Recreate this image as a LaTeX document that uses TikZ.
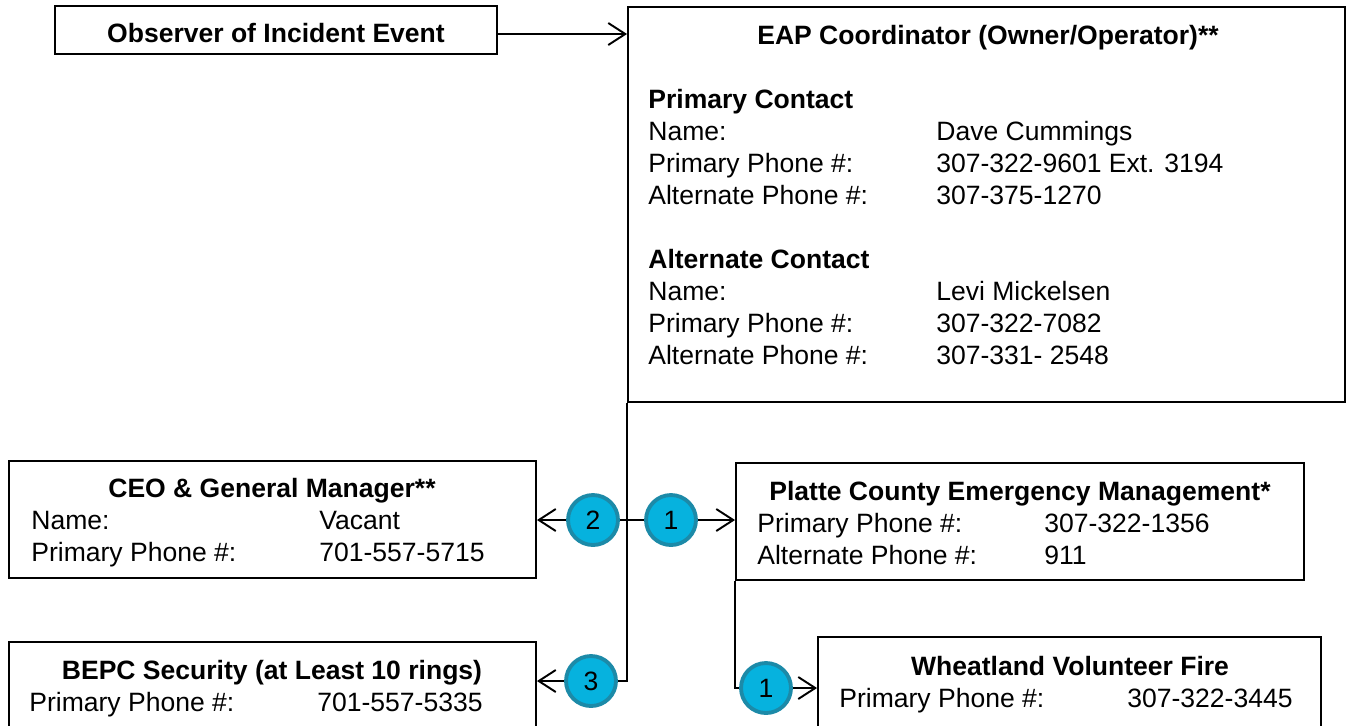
\documentclass[tikz,border=0pt]{standalone}
\usepackage{fontspec}
\setmainfont{Liberation Sans}
\definecolor{BadgeFill}{RGB}{6,178,222}
\definecolor{BadgeEdge}{RGB}{28,138,168}
\usepackage{tikz}
\usetikzlibrary{positioning, arrows.meta, fit, calc}
\newcommand{\bodysize}{\fontsize{15.1}{18}\selectfont}
\tikzset{
  box/.style={draw, line width=1.1pt, inner sep=0pt, fill=white},
  hd/.style={anchor=base, inner sep=0pt, font=\bodysize\bfseries},
  lbl/.style={anchor=base west, inner sep=0pt, font=\bodysize},
  badge/.style={circle, draw=BadgeEdge, line width=2.2pt, fill=BadgeFill, minimum size=1cm, inner sep=0pt, font=\bodysize},
  link/.style={line width=1.1pt, -{Straight Barb[length=3.4mm, width=4.4mm, line width=1.1pt]}}
}

\begin{document}
\begin{tikzpicture}[x=0.02cm, y=-0.02cm]
          \useasboundingbox (0,0) rectangle (1351,725);
          \clip (0,0) rectangle (1351,725);
          % boxes
          \node[box, fit={(55,6) (497,54)}] (obs) {};
          \node[box, fit={(628,7) (1345,402)}] (eap) {};
          \node[box, fit={(9,461) (536,578)}] (ceo) {};
          \node[box, fit={(9,642) (536,745)}] (bepc) {};
          \node[box, fit={(736,463) (1304,580)}] (platte) {};
          \node[box, fit={(818,637) (1321,745)}] (wheat) {};
          % observer
          \node[hd] (obsT) at (276,42.5) {Observer of Incident Event};
          % EAP coordinator
          \node[hd] (eapT) at (988,44.5) {EAP Coordinator (Owner/Operator)**};
          \node[lbl, font=\bodysize\bfseries] (eapP) at (648,108.5) {Primary Contact};
          \node[lbl] (eapPa) at (648,140.5) {Name:};
          \node[lbl] (eapPb) at (648,172.5) {Primary Phone \#:};
          \node[lbl] (eapPc) at (648,204.5) {Alternate Phone \#:};
          \node[lbl] (eapPav) at (936,140.5) {Dave Cummings};
          \node[lbl] (eapPbv) at (936,172.5) {307-322-9601 Ext. 3194};
          \node[lbl] (eapPcv) at (936,204.5) {307-375-1270};
          \node[lbl, font=\bodysize\bfseries] (eapA) at (648,268.5) {Alternate Contact};
          \node[lbl] (eapAa) at (648,300.5) {Name:};
          \node[lbl] (eapAb) at (648,332.5) {Primary Phone \#:};
          \node[lbl] (eapAc) at (648,364.5) {Alternate Phone \#:};
          \node[lbl] (eapAav) at (936,300.5) {Levi Mickelsen};
          \node[lbl] (eapAbv) at (936,332.5) {307-322-7082};
          \node[lbl] (eapAcv) at (936,364.5) {307-331- 2548};
          % CEO
          \node[hd] (ceoT) at (272,497.5) {CEO \& General Manager**};
          \node[lbl] (ceoa) at (31,529.5) {Name:};
          \node[lbl] (ceob) at (31,561.5) {Primary Phone \#:};
          \node[lbl] (ceoav) at (319,529.5) {Vacant};
          \node[lbl] (ceobv) at (319,561.5) {701-557-5715};
          % BEPC security
          \node[hd] (bepcT) at (272,679.5) {BEPC Security (at Least 10 rings)};
          \node[lbl] (bepca) at (29,711.5) {Primary Phone \#:};
          \node[lbl] (bepcav) at (317,711.5) {701-557-5335};
          % Platte county
          \node[hd] (platteT) at (1020,500.5) {Platte County Emergency Management*};
          \node[lbl] (plattea) at (757,532.5) {Primary Phone \#:};
          \node[lbl] (platteb) at (757,564.5) {Alternate Phone \#:};
          \node[lbl] (platteav) at (1044,532.5) {307-322-1356};
          \node[lbl] (plattebv) at (1044,564.5) {911};
          % Wheatland
          \node[hd] (wheatT) at (1070,675.5) {Wheatland Volunteer Fire};
          \node[lbl] (wheata) at (839,707.5) {Primary Phone \#:};
          \node[lbl] (wheatav) at (1127,707.5) {307-322-3445};
          % connectors
          \coordinate (p0) at (560,34);
          \coordinate (p2) at (593,520);
          \coordinate (p1) at (671,520);
          \coordinate (p3) at (591,681);
          \coordinate (p4) at (766,688);
          \draw[link] (obs.east |- p0) -- (eap.west |- p0);
          \draw[link] (eap.south west) |- (bepc.east |- p3);
          \draw[link] (eap.south west |- p2) -- (ceo.east |- p2);
          \draw[link] (eap.south west |- p1) -- (platte.west |- p1);
          \draw[link] (platte.south west) |- (wheat.west |- p4);
          \node[badge] (b2) at (p2) {2};
          \node[badge] (b1) at (p1) {1};
          \node[badge] (b3) at (p3) {3};
          \node[badge] (b4) at (p4) {1};
        \end{tikzpicture}
\end{document}
